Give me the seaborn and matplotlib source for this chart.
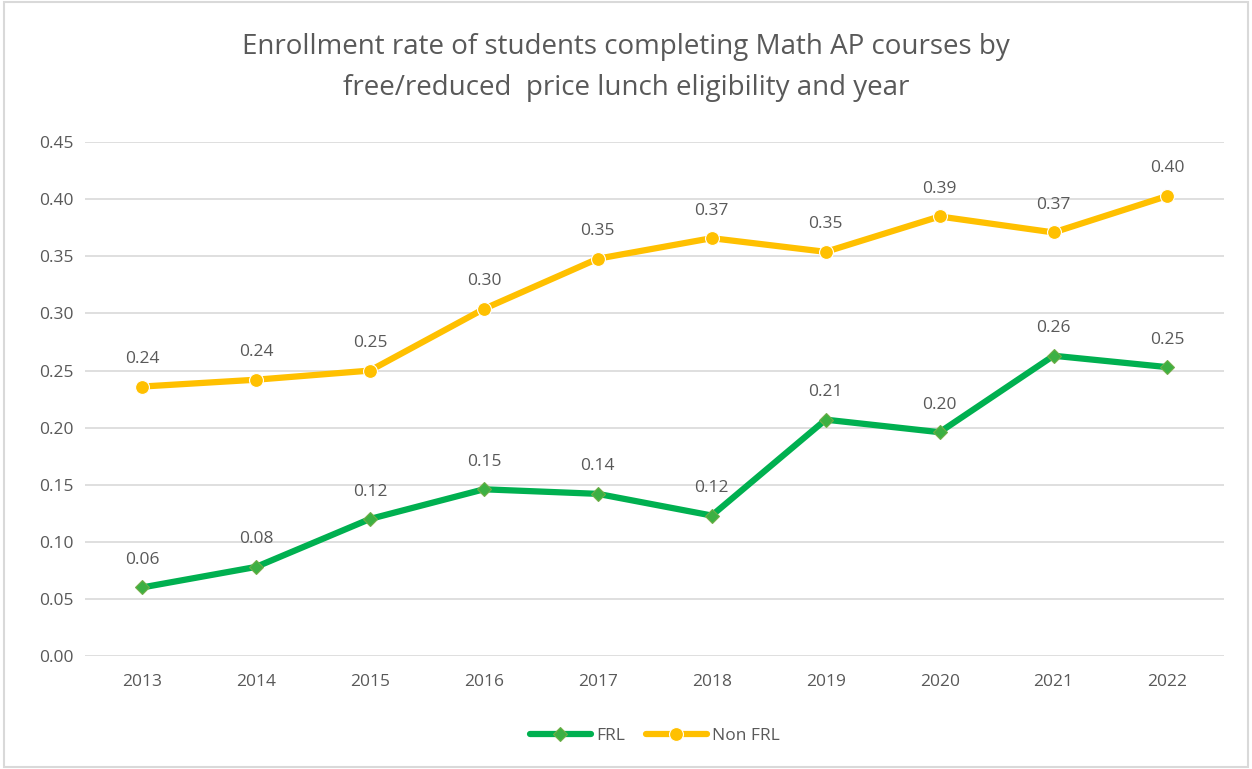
import pandas as pd
import seaborn as sns
import matplotlib.pyplot as plt
from matplotlib.patches import Rectangle

years = [2013, 2014, 2015, 2016, 2017, 2018, 2019, 2020, 2021, 2022]
frl = [0.060, 0.078, 0.120, 0.146, 0.142, 0.123, 0.207, 0.196, 0.263, 0.253]
non_frl = [0.236, 0.242, 0.250, 0.304, 0.348, 0.366, 0.354, 0.385, 0.371, 0.403]
series_names = ["FRL", "Non FRL"]
colors = {"FRL": "#00B050", "Non FRL": "#FFC000"}

df = pd.DataFrame({
    "year": years * 2,
    "rate": frl + non_frl,
    "group": ["FRL"] * len(years) + ["Non FRL"] * len(years),
})
df["pos"] = df["year"] - years[0]

sns.set_theme(style="white")
plt.rcParams["font.family"] = ["Open Sans", "DejaVu Sans"]
text_color = "#595959"

fig = plt.figure(figsize=(12.52, 7.69), dpi=100)
ax = fig.add_axes([0.068, 0.147, 0.910, 0.668])

sns.lineplot(data=df, x="pos", y="rate", hue="group", style="group",
             hue_order=series_names, style_order=series_names,
             palette=colors, markers={"FRL": "D", "Non FRL": "o"},
             dashes=False, linewidth=4.5, markersize=8, ax=ax)

for line in ax.lines:
    line.set_markeredgewidth(0.8)
    if line.get_color() == "#00B050":
        line.set_markerfacecolor("#3CB043")
        line.set_markeredgecolor("#70AD47")
        line.set_markersize(7)
    elif line.get_color() == "#FFC000":
        line.set_markersize(10)

for name, vals in [("FRL", frl), ("Non FRL", non_frl)]:
    for i, v in enumerate(vals):
        ax.annotate(f"{v:.2f}", (i, v), xytext=(0, 14), textcoords="offset points",
                    ha="center", va="bottom", fontsize=12.5, color=text_color)

ax.set_xlim(-0.5, len(years) - 0.5)
ax.set_ylim(0, 0.45)
ax.set_xticks(range(len(years)))
ax.set_xticklabels([str(y) for y in years])
ax.set_yticks([i * 0.05 for i in range(10)])
ax.set_yticklabels([f"{i * 0.05:.2f}" for i in range(10)])
ax.tick_params(axis="both", length=0, labelsize=12.5, labelcolor=text_color)
ax.tick_params(axis="x", pad=13)
ax.tick_params(axis="y", pad=8)
ax.yaxis.grid(True, color="#D9D9D9", linewidth=1.2)
ax.set_axisbelow(True)
for s in ax.spines.values():
    s.set_visible(False)
ax.set_xlabel("")
ax.set_ylabel("")

ax.legend(loc="center", bbox_to_anchor=(0.5, -0.155), ncol=2, frameon=False,
          fontsize=12.5, labelcolor=text_color, handlelength=3.5, columnspacing=1.2,
          handletextpad=0.3)

fig.text(0.5, 0.912, "Enrollment rate of students completing Math AP courses by\nfree/reduced  price lunch eligibility and year",
         ha="center", va="center", fontsize=20, color=text_color, linespacing=1.6)

fig.patches.append(Rectangle((0.003, 0.003), 0.994, 0.994, transform=fig.transFigure,
                             fill=False, edgecolor="#D9D9D9", linewidth=1.5))

fig.savefig("out.png", dpi=100, facecolor="white")
